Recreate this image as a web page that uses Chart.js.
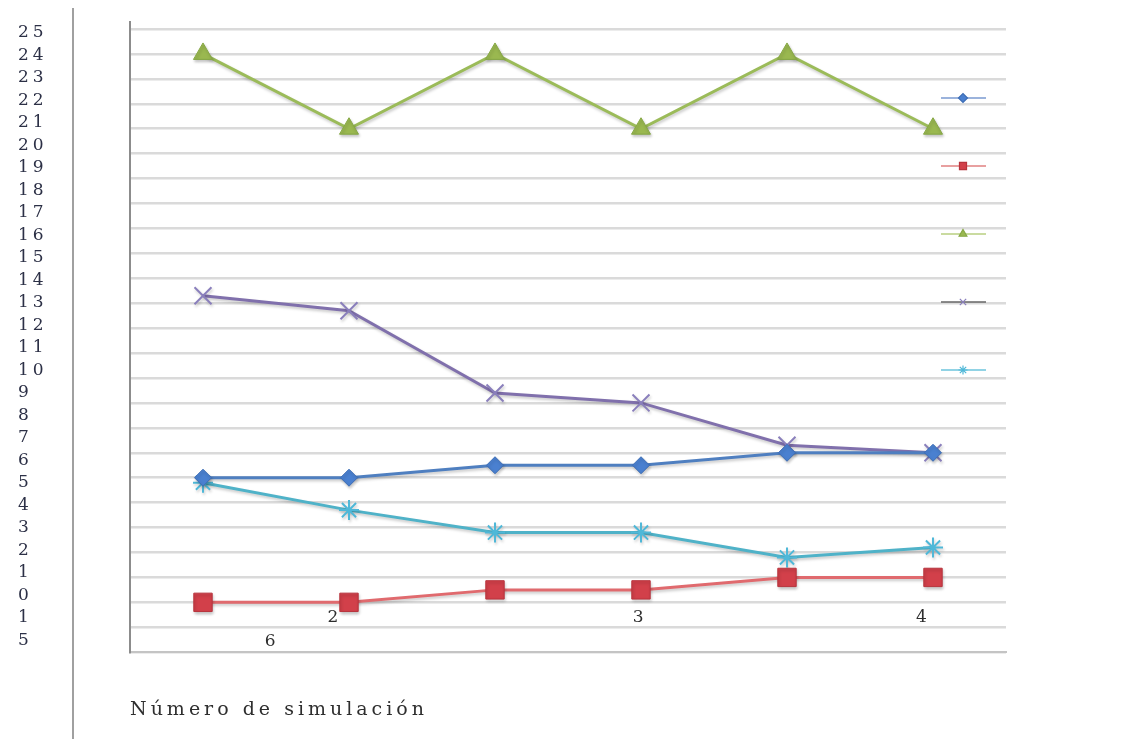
<!DOCTYPE html>
<html>
<head>
<meta charset="utf-8">
<script src="https://cdn.jsdelivr.net/npm/chart.js@4/dist/chart.umd.min.js"></script>
<style>
  html, body { margin: 0; padding: 0; background: #ffffff; }
  #grafico { display: block; }
</style>
</head>
<body>
<canvas id="grafico" width="1127" height="739"></canvas>
<script>
// Simulaciones (categorías del eje X)
const simulaciones = ['1', '2', '3', '4', '5', '6'];

// Valores de cada serie
const serie1 = [7, 7, 7.5, 7.5, 8, 8];
const serie2 = [2, 2, 2.5, 2.5, 3, 3];
const serie3 = [24, 21, 24, 21, 24, 21];
const serie4 = [14.3, 13.7, 10.4, 10.0, 8.3, 8.0];
const serie5 = [6.8, 5.7, 4.8, 4.8, 3.8, 4.2];

// Rótulos de la columna izquierda, de arriba abajo
const rotulosY = ['25', '24', '23', '22', '21', '20', '19', '18', '17', '16', '15', '14', '13',
                  '12', '11', '10', '9', '8', '7', '6', '5', '4', '3', '2', '1', '0', '1', '5'];

// Rótulos sueltos junto al eje X
const rotulosX = ['6', '2', '3', '4'];

const tituloX = 'Número de simulación';

const FUENTE = '"DejaVu Serif", "Liberation Serif", serif';

// Estilo de cada serie
const estilos = [
  { linea: '#4f7fc0', punto: '#4a80d0', borde: '#3d6db5', forma: 'rectRot', radio: 8.5, leyenda: '#7a9ad0' },
  { linea: '#e06a6e', punto: '#d2404a', borde: '#b8343d', forma: 'rect', radio: 13, leyenda: '#e08080' },
  { linea: '#9bbb59', punto: '#9ab850', borde: '#86a845', forma: 'triangle', radio: 11, leyenda: '#b8cf80' },
  { linea: '#8070ac', punto: 'rgba(0,0,0,0)', borde: '#8a7fbc', forma: 'crossRot', radio: 12, leyenda: '#666666' },
  { linea: '#4fb2c8', punto: 'rgba(0,0,0,0)', borde: '#4fb8d8', forma: 'star', radio: 10, leyenda: '#6cc4dc' }
];

const series = [serie1, serie2, serie3, serie4, serie5];

const datasets = series.map((datos, i) => ({
  label: 'Serie ' + (i + 1),
  data: datos,
  borderColor: estilos[i].linea,
  borderWidth: 3,
  tension: 0,
  pointStyle: estilos[i].forma,
  pointRadius: estilos[i].radio,
  pointBackgroundColor: estilos[i].punto,
  pointBorderColor: estilos[i].borde,
  pointBorderWidth: (estilos[i].forma === 'crossRot' || estilos[i].forma === 'star') ? 2 : 1,
  yAxisID: 'y',
  xAxisID: 'x'
}));

// Línea vertical de separación a la izquierda y espaciado de letras de los ejes
const decoracion = {
  id: 'decoracion',
  beforeDraw(chart) {
    const ctx = chart.ctx;
    ctx.save();
    ctx.strokeStyle = '#a0a0a0';
    ctx.lineWidth = 2;
    ctx.beginPath();
    ctx.moveTo(73, 8);
    ctx.lineTo(73, chart.height);
    ctx.stroke();
    // prolongación del eje vertical por encima del área de trazado
    const a = chart.chartArea;
    ctx.strokeStyle = '#8c8c8c';
    ctx.beginPath();
    ctx.moveTo(a.left, a.top - 8);
    ctx.lineTo(a.left, a.top);
    ctx.stroke();
    ctx.restore();
    ctx.letterSpacing = '4px';
  },
  beforeDatasetsDraw(chart) {
    const ctx = chart.ctx;
    ctx.letterSpacing = '0px';
    ctx.save();
    ctx.shadowColor = 'rgba(0,0,0,0.22)';
    ctx.shadowBlur = 3;
    ctx.shadowOffsetX = 1;
    ctx.shadowOffsetY = 2;
  },
  afterDatasetsDraw(chart) {
    chart.ctx.restore();
  }
};

// Rótulos sueltos del eje X, situados en coordenadas de las escalas
const posicionesX = [
  { x: 0.46, y: 0.43 },
  { x: 0.89, y: 1.39 },
  { x: 2.98, y: 1.39 },
  { x: 4.92, y: 1.39 }
];

const rotulosSueltos = {
  id: 'rotulosSueltos',
  afterDraw(chart) {
    const ctx = chart.ctx;
    const sx = chart.scales.x, sy = chart.scales.y;
    ctx.save();
    ctx.font = '17px ' + FUENTE;
    ctx.fillStyle = '#2e2e2e';
    ctx.textAlign = 'center';
    ctx.textBaseline = 'middle';
    rotulosX.forEach((t, i) => {
      ctx.fillText(t, sx.getPixelForValue(posicionesX[i].x), sy.getPixelForValue(posicionesX[i].y));
    });
    ctx.restore();
  }
};

// Leyenda sin texto: segmento de línea con su marcador, dentro del área de trazado
const leyenda = {
  id: 'leyendaMarcas',
  afterDraw(chart) {
    const ctx = chart.ctx;
    const area = chart.chartArea;
    const cx = area.right - 43;
    estilos.forEach((e, i) => {
      const cy = area.top + 69 + 68 * i;
      ctx.save();
      ctx.strokeStyle = e.leyenda;
      ctx.lineWidth = 1.5;
      ctx.beginPath();
      ctx.moveTo(cx - 22, cy);
      ctx.lineTo(cx + 23, cy);
      ctx.stroke();
      ctx.fillStyle = e.punto === 'rgba(0,0,0,0)' ? e.leyenda : e.punto;
      ctx.strokeStyle = e.borde;
      ctx.lineWidth = 1.2;
      Chart.helpers.drawPoint(ctx, {
        pointStyle: e.forma,
        radius: e.forma === 'rect' ? 5 : 4.5,
        rotation: 0,
        borderWidth: 1.2
      }, cx, cy);
      ctx.restore();
    });
  }
};

new Chart(document.getElementById('grafico'), {
  type: 'line',
  data: { labels: simulaciones, datasets },
  options: {
    responsive: false,
    animation: false,
    devicePixelRatio: 1,
    layout: { padding: { left: 18, top: 29, right: 121, bottom: 18 } },
    plugins: {
      legend: { display: false },
      tooltip: { enabled: false }
    },
    scales: {
      x: {
        type: 'category',
        offset: true,
        grid: { display: false, drawTicks: false },
        border: { display: true, color: '#c4c4c4', width: 2 },
        ticks: { display: false },
        title: {
          display: true,
          text: tituloX,
          align: 'start',
          color: '#2e2e2e',
          font: { family: FUENTE, size: 19 },
          padding: { top: 46, bottom: 0 }
        }
      },
      y: {
        type: 'linear',
        position: 'left',
        weight: 0,
        min: 0,
        max: 25,
        ticks: { display: false, stepSize: 1 },
        grid: { color: '#dadada', lineWidth: 2.5, drawTicks: false },
        border: { display: true, color: '#8c8c8c', width: 2 },
        afterFit(scale) { scale.width = 0; }
      },
      yl: {
        type: 'linear',
        position: 'left',
        weight: 1,
        min: -0.52,
        max: 27.165,
        grid: { display: false, drawTicks: false },
        border: { display: false },
        ticks: {
          autoSkip: false,
          crossAlign: 'far',
          color: '#2c3046',
          font: { family: FUENTE, size: 17 },
          callback: (value) => rotulosY[rotulosY.length - 1 - value]
        },
        afterBuildTicks(scale) {
          scale.ticks = rotulosY.map((t, i) => ({ value: rotulosY.length - 1 - i }));
        },
        afterFit(scale) { scale.width = 112; }
      }
    }
  },
  plugins: [decoracion, rotulosSueltos, leyenda]
});
</script>
</body>
</html>
